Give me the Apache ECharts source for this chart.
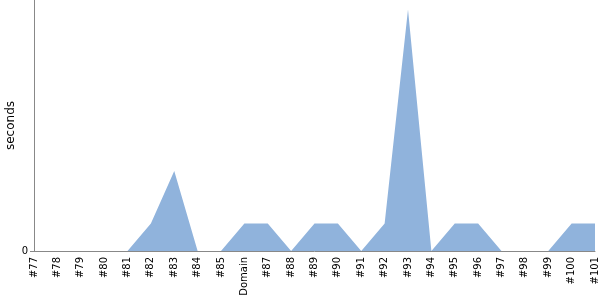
<!DOCTYPE html>
<html>
<head>
<meta charset="utf-8">
<script src="https://cdn.jsdelivr.net/npm/echarts@6/dist/echarts.min.js"></script>
<style>html,body{margin:0;padding:0;background:#fff}#c{width:600px;height:300px}</style>
</head>
<body>
<div id="c"></div>
<script>
const categories = ['#77','#78','#79','#80','#81','#82','#83','#84','#85','Domain','#87','#88','#89','#90','#91','#92','#93','#94','#95','#96','#97','#98','#99','#100','#101'];
const seconds = [0,0,0,0,0,1,2.92,0,0,1,1,0,1,1,0,1,8.8,0,1,1,0,0,0,1,1];
const yMax = 9.15;
const yTicks = [0];

const chart = echarts.init(document.getElementById('c'), null, {renderer:'canvas'});
chart.setOption({
  animation: false,
  grid: {left: 34, right: 5, top: 0, bottom: 49, containLabel: false, outerBoundsMode: 'none'},
  xAxis: {
    type: 'category',
    data: categories,
    boundaryGap: false,
    axisLine: {lineStyle: {color: '#888', width: 1}},
    axisTick: {show: false},
    axisLabel: {rotate: 90, interval: 0, color: '#000', fontFamily: 'DejaVu Sans', fontSize: 10, margin: 6}
  },
  yAxis: {
    type: 'value',
    min: 0,
    max: yMax,
    name: 'seconds',
    nameLocation: 'middle',
    nameGap: 17,
    nameMoveOverlap: false,
    nameTextStyle: {color: '#000', fontFamily: 'DejaVu Sans', fontSize: 12},
    axisLine: {show: true, lineStyle: {color: '#888', width: 1}},
    axisTick: {show: true, length: 4, lineStyle: {color: '#888'}, customValues: yTicks},
    splitLine: {show: false},
    axisLabel: {color: '#000', fontFamily: 'DejaVu Sans', fontSize: 10, margin: 6, customValues: yTicks}
  },
  series: [{
    type: 'line',
    data: seconds,
    symbol: 'none',
    lineStyle: {width: 0, color: '#90b3dc'},
    itemStyle: {color: '#90b3dc'},
    areaStyle: {color: '#90b3dc', opacity: 1}
  }]
});
</script>
</body>
</html>
